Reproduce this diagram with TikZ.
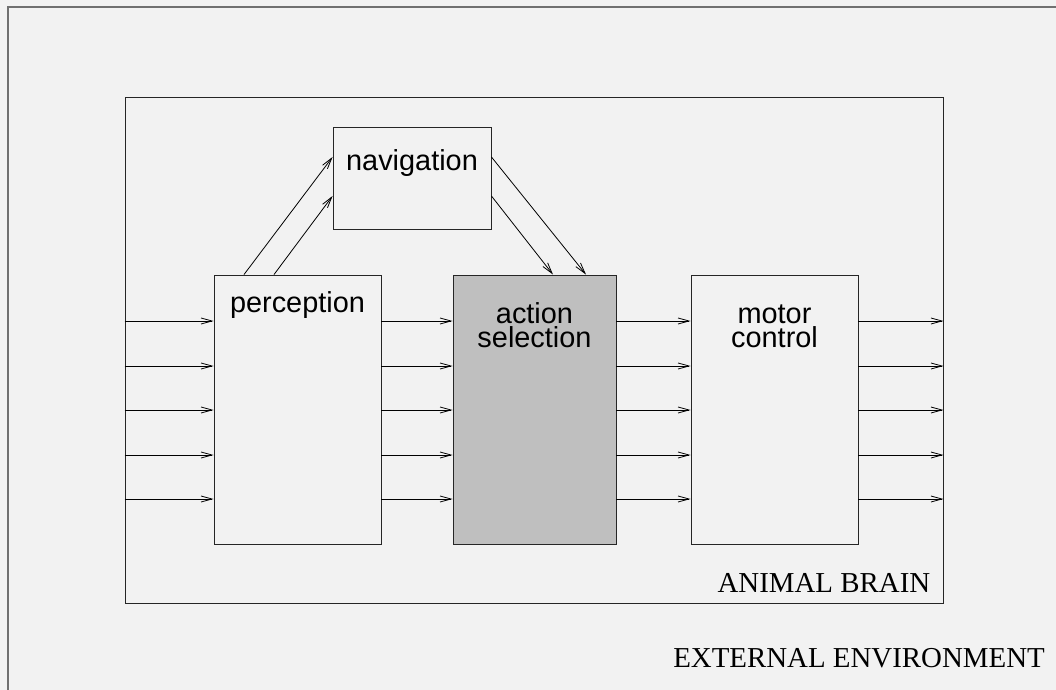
\documentclass[tikz,border=0pt]{standalone}
\usepackage{fontspec}
\setmainfont{Liberation Serif}
\setsansfont{Liberation Sans}
\usetikzlibrary{arrows.meta,calc}
\definecolor{paper}{HTML}{F2F2F2}
\definecolor{shade}{HTML}{BFBFBF}
\definecolor{framegray}{HTML}{707070}
\begin{document}
\begin{tikzpicture}[x=1bp,y=-1bp,
  box/.style={draw=black!85,line width=0.9bp,inner sep=0pt},
  modlabel/.style={font=\sffamily\fontsize{29}{24}\selectfont,inner sep=0pt,anchor=base,align=center},
  envlabel/.style={font=\rmfamily\fontsize{29}{33}\selectfont,inner sep=0pt,anchor=base east},
  flow/.style={draw=black,line width=0.8bp,-{Straight Barb[length=11bp,width=6bp]}}]
% page and surrounding environment
\fill[paper] (0,0) rectangle (1056,690);
\useasboundingbox (0,0) rectangle (1056,690);
\draw[framegray,line width=1.6bp] (8,690) |- (1056,7);

% brain and its modules
\node[box,minimum width=818bp,minimum height=506bp] (brain) at (534,350) {};
\node[box,minimum width=158bp,minimum height=102bp] (nav) at (412,178) {};
\node[box,minimum width=167bp,minimum height=269bp] (per) at (297.5,409.5) {};
\node[box,fill=shade,minimum width=163bp,minimum height=269bp] (act) at (534.5,409.5) {};
\node[box,minimum width=167bp,minimum height=269bp] (mot) at (774.5,409.5) {};

% module names (for two-line names the base anchor sits on the last line)
\node[modlabel] (navl) at ($(nav.north)+(0,44)$) {navigation};
\node[modlabel] (perl) at ($(per.north)+(0,38)$) {perception};
\node[modlabel] (actl) at ($(act.north)+(0,73)$) {action\\selection};
\node[modlabel] (motl) at ($(mot.north)+(0,73)$) {motor\\control};

\node[envlabel] (brainl) at ($(brain.south east)+(-13,-11)$) {ANIMAL BRAIN};
\node[envlabel] (envl) at (1045,667) {EXTERNAL ENVIRONMENT};

% parallel channels through the modules
\foreach \y [count=\i] in {321,366,410,455,499} {
  \coordinate (r\i) at (0,\y);
  \draw[flow] (brain.west |- r\i) -- (per.west |- r\i);
  \draw[flow] (per.east |- r\i) -- (act.west |- r\i);
  \draw[flow] (act.east |- r\i) -- (mot.west |- r\i);
  \draw[flow] (mot.east |- r\i) -- (brain.east |- r\i);
}

% perception to navigation and navigation to action selection
\coordinate (pa) at (244,0);
\coordinate (pb) at (274,0);
\coordinate (na) at (0,157);
\coordinate (nb) at (0,196);
\draw[flow] (per.north -| pa) -- (nav.west |- na);
\draw[flow] (per.north -| pb) -- (nav.west |- nb);
\coordinate (aa) at (586,0);
\coordinate (ab) at (553,0);
\draw[flow] (nav.east |- na) -- (act.north -| aa);
\draw[flow] (nav.east |- nb) -- (act.north -| ab);
\end{tikzpicture}
\end{document}
